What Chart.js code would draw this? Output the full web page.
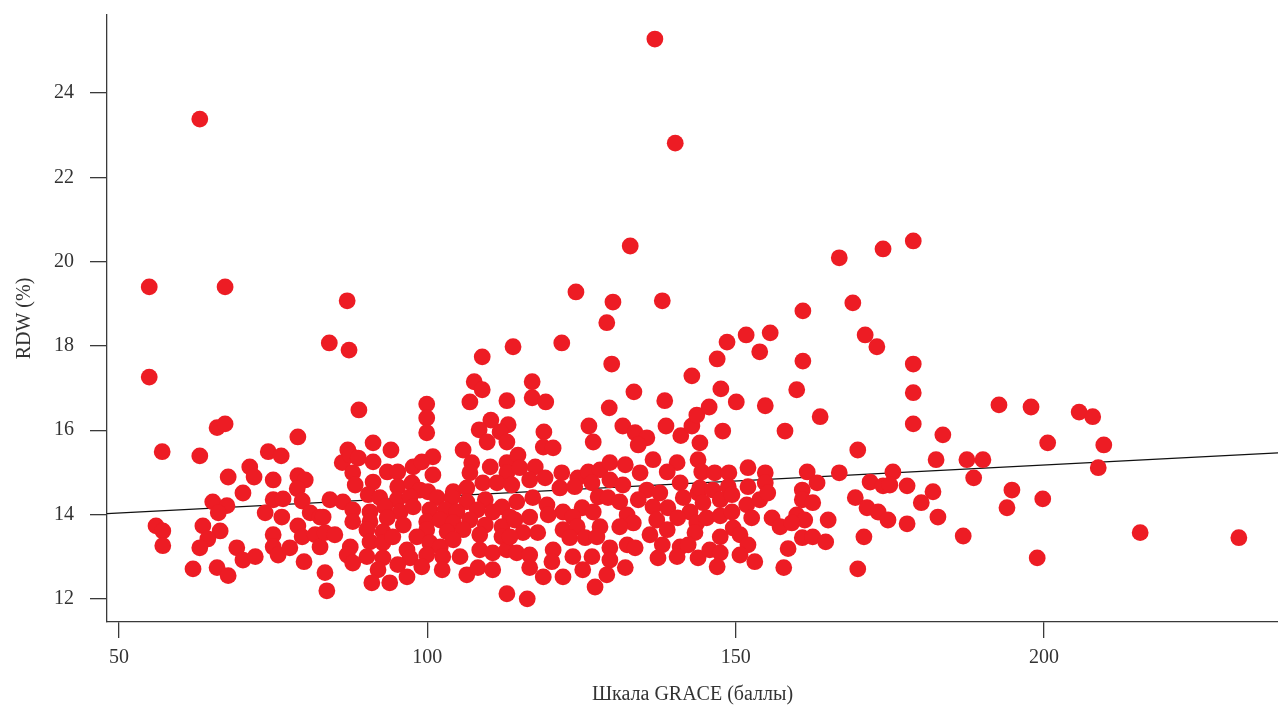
<!DOCTYPE html>
<html>
<head>
<meta charset="utf-8">
<script src="https://cdn.jsdelivr.net/npm/chart.js@4.4.1/dist/chart.umd.min.js"></script>
<style>
  html, body { margin: 0; padding: 0; background: #ffffff; }
  #wrap { width: 1278px; height: 705px; position: relative; }
</style>
</head>
<body>
<div id="wrap"><canvas id="c" width="1278" height="705"></canvas></div>
<script>
// GRACE score (x) and RDW % (y) for each patient
const grace = [
136.9,63.1,140.2,132.9,178.8,173.9,166.8,54.9,67.2,87.0,124.1,130.1,138.1,169.0,129.1,160.9,151.7,155.6,171.0,148.6,
153.9,172.9,84.1,87.3,113.9,121.8,54.9,108.9,129.9,107.6,108.9,106.9,112.9,88.9,99.9,99.9,99.9,110.3,108.4,113.1,
111.8,109.7,112.9,91.2,87.1,94.1,105.8,65.9,67.2,79.0,57.0,63.1,74.2,76.3,71.2,67.7,71.9,75.0,79.0,80.2,
70.1,78.9,75.0,76.6,79.7,65.2,67.5,66.1,73.7,76.4,81.0,82.6,56.0,57.1,63.6,66.4,57.1,64.4,63.1,75.0,
79.0,79.7,81.8,69.1,75.0,75.8,77.7,82.6,70.1,72.1,80.0,62.0,65.9,67.7,83.4,83.7,
100.9,86.2,87.5,88.8,91.2,93.5,95.2,97.7,99.1,100.9,107.2,106.9,110.2,112.9,112.9,87.9,88.3,91.2,95.2,97.5,
98.8,100.1,104.2,106.4,109.0,111.3,113.7,84.2,86.3,90.4,92.3,95.1,97.2,101.6,104.0,106.4,109.4,112.1,83.1,87.9,
90.7,93.1,95.6,97.7,100.4,102.9,104.8,108.1,110.6,113.4,87.9,90.7,93.5,96.1,99.9,102.1,104.2,106.9,109.4,112.1,
83.4,85.0,90.2,92.8,99.9,103.2,105.8,108.5,112.1,87.5,90.7,92.8,94.4,96.7,98.3,100.4,102.1,104.2,105.3,108.5,
110.6,112.9,87.0,90.2,92.8,97.2,99.9,102.5,87.9,92.0,95.2,99.1,102.4,106.4,108.2,110.6,91.0,93.9,96.7,112.9,
142.9,117.0,117.0,119.2,133.5,138.5,129.5,126.2,131.7,138.7,118.9,133.7,135.6,141.1,142.9,143.7,126.9,118.8,120.4,134.2,
144.2,114.7,136.6,140.5,143.9,115.0,117.5,121.8,124.4,126.1,128.0,129.6,132.1,134.5,138.9,141.0,116.6,119.1,121.5,123.9,
126.7,129.6,131.7,135.6,137.7,141.5,143.9,114.5,117.1,119.4,122.0,125.1,127.7,129.3,131.2,134.2,136.6,139.0,142.6,114.2,
116.6,119.6,123.6,126.9,132.4,133.4,137.2,140.6,143.7,115.5,117.9,122.0,124.3,128.0,131.2,136.1,138.9,143.4,113.4,123.1,
125.6,127.5,129.6,132.4,133.7,138.1,141.0,142.3,114.5,116.6,120.4,123.6,126.7,129.6,137.4,140.5,143.9,120.2,116.6,125.2,
132.1,118.8,122.0,129.1,127.2,116.2,
147.0,160.9,147.6,159.9,145.7,150.1,154.8,163.7,147.9,158.0,169.8,144.5,146.6,148.9,152.0,154.8,161.6,166.8,175.5,144.2,
146.3,148.8,152.0,154.8,160.8,163.2,171.8,173.9,144.7,147.5,149.4,151.8,153.9,155.2,160.8,162.5,169.4,171.3,173.1,174.7,
145.3,147.5,149.4,152.6,155.9,157.2,159.9,161.2,159.1,165.0,147.5,149.6,150.7,152.0,160.8,162.5,164.6,170.8,145.8,147.5,
150.7,153.1,158.5,147.0,157.8,169.8,
178.8,178.8,178.8,183.6,192.7,197.9,205.7,200.6,182.5,187.5,190.1,188.6,175.0,177.8,182.0,180.1,194.8,199.8,194.0,177.8,
182.8,186.9,198.9,207.9,209.7,208.8,215.6,231.6
];
const rdw = [
25.28,23.38,22.81,20.37,20.49,20.30,20.09,19.40,19.40,19.07,19.28,19.04,19.07,19.02,18.55,18.83,18.26,18.31,18.26,18.09,
17.86,17.98,18.07,17.90,17.98,18.07,17.26,17.74,17.57,17.15,16.96,16.67,16.70,16.48,16.62,16.29,15.94,16.24,16.01,16.13,
15.96,15.72,15.72,15.70,15.53,15.53,15.53,16.06,16.15,15.84,15.49,15.39,15.49,15.39,15.13,14.89,14.89,14.82,14.92,14.82,
14.51,14.61,14.35,14.37,14.32,14.30,14.21,14.04,14.04,13.94,14.04,13.94,13.73,13.61,13.73,13.61,13.26,13.42,13.21,13.52,
13.73,13.47,13.52,13.21,13.23,13.04,13.21,13.23,12.92,13.00,12.88,12.71,12.74,12.55,12.62,12.19,
15.37,15.23,15.41,15.34,15.25,15.01,15.01,15.13,15.25,14.94,15.23,14.99,15.13,15.23,14.99,14.99,14.70,14.77,14.66,14.75,
14.58,14.54,14.54,14.63,14.75,14.75,14.70,14.35,14.30,14.47,14.40,14.35,14.42,14.40,14.40,14.30,14.35,14.18,13.94,14.11,
14.06,14.18,14.06,14.18,14.11,14.11,14.06,14.11,14.06,13.94,13.83,13.83,13.92,13.75,13.83,13.87,13.80,13.87,13.75,13.71,
13.57,13.52,13.64,13.59,13.64,13.59,13.64,13.52,13.47,13.23,13.35,13.33,13.47,13.16,13.47,13.33,13.23,13.40,13.00,13.16,
13.09,13.16,13.04,13.00,12.97,12.97,13.04,13.00,12.85,12.69,12.81,12.76,12.69,12.57,12.74,12.69,12.38,12.38,12.52,12.12,
17.29,17.15,16.77,16.67,16.91,16.70,16.53,16.10,16.10,16.10,15.96,15.94,15.82,15.87,16.10,16.36,15.72,15.60,15.58,15.65,
15.70,15.41,15.30,15.23,15.30,15.11,15.13,14.99,14.87,15.01,15.06,15.23,15.18,14.99,15.01,14.75,14.82,14.87,14.63,14.66,
14.75,14.82,14.70,14.58,14.51,14.40,14.51,14.30,14.40,14.23,14.06,14.16,14.42,14.40,14.30,14.35,14.18,14.16,14.06,13.87,
13.94,13.99,13.94,14.06,13.99,13.80,13.87,13.92,13.80,13.57,13.57,13.64,13.71,13.71,13.71,13.52,13.64,13.57,13.47,13.45,
13.45,13.47,13.21,13.28,13.21,13.28,13.23,13.28,13.09,13.04,13.16,13.00,13.00,12.92,12.97,13.00,12.97,12.88,12.74,12.69,
12.74,12.52,12.52,12.57,12.28,12.00,
17.69,17.64,16.98,16.96,16.55,16.67,16.58,16.32,15.98,15.98,15.53,15.01,14.99,14.99,15.11,14.99,15.01,14.99,15.01,14.63,
14.58,14.66,14.66,14.75,14.58,14.75,14.77,14.68,14.28,14.35,14.47,14.23,14.35,14.51,14.35,14.28,14.40,14.16,14.06,13.87,
13.92,13.97,14.06,13.92,13.92,13.71,13.99,13.87,13.80,13.87,13.47,13.68,13.52,13.28,13.45,13.47,13.35,13.47,13.16,13.09,
13.04,12.88,13.19,12.76,12.74,12.71,
17.57,16.89,16.15,15.89,16.60,16.55,16.43,15.70,15.30,15.30,15.30,14.87,14.70,14.68,14.54,14.28,14.58,14.37,14.16,13.78,
13.94,13.49,12.97,16.32,15.65,15.11,13.57,13.45
];
// Regression line end points
const trendX = [48.05, 237.95];
const trendY = [14.02, 15.46];
// Tick labels
const xTicks = [50, 100, 150, 200];
const yTicks = [12, 14, 16, 18, 20, 22, 24];
const xTitle = 'Шкала GRACE (баллы)';
const yTitle = 'RDW (%)';

const points = grace.map((g, i) => ({ x: g, y: rdw[i] }));
const trend = trendX.map((x, i) => ({ x: x, y: trendY[i] }));

const axisColor = '#3a3a3a';
const font = { family: 'Liberation Serif', size: 20 };

new Chart(document.getElementById('c'), {
  type: 'scatter',
  data: {
    datasets: [
      {
        data: points,
        backgroundColor: '#ED1C24',
        borderWidth: 0,
        pointRadius: 8.4,
        pointHoverRadius: 8.4,
        order: 0
      },
      {
        type: 'line',
        data: trend,
        borderColor: '#111111',
        borderWidth: 1.2,
        pointRadius: 0,
        fill: false,
        order: 1
      }
    ]
  },
  options: {
    responsive: false,
    animation: false,
    devicePixelRatio: 1,
    layout: { autoPadding: false, padding: { top: 15, right: 0, left: 0, bottom: 0 } },
    plugins: { legend: { display: false }, tooltip: { enabled: false } },
    scales: {
      x: {
        type: 'linear',
        min: 48.05,
        max: 237.95,
        afterBuildTicks: s => { s.ticks = xTicks.map(v => ({ value: v })); },
        afterFit: s => { s.height = 83; s.paddingLeft = 0; s.paddingRight = 0; },
        grid: { display: true, drawOnChartArea: false, drawTicks: true, tickLength: 16, color: axisColor, lineWidth: 1.3 },
        border: { display: true, color: axisColor, width: 1.3 },
        ticks: { font: font, color: '#333333', padding: 8, maxRotation: 0 },
        title: { display: true, text: xTitle, font: font, color: '#333333', padding: { top: 0, bottom: -2 } }
      },
      y: {
        type: 'linear',
        min: 11.45,
        max: 25.85,
        afterBuildTicks: s => { s.ticks = yTicks.map(v => ({ value: v })); },
        afterFit: s => { s.width = 107; s.paddingTop = 0; s.paddingBottom = 0; },
        grid: { display: true, drawOnChartArea: false, drawTicks: true, tickLength: 17, color: axisColor, lineWidth: 1.3 },
        border: { display: true, color: axisColor, width: 1.3 },
        ticks: { font: font, color: '#333333', padding: 16 },
        title: { display: true, text: yTitle, font: font, color: '#333333', padding: { top: 13, bottom: 0 } }
      }
    }
  }
});
</script>
</body>
</html>
